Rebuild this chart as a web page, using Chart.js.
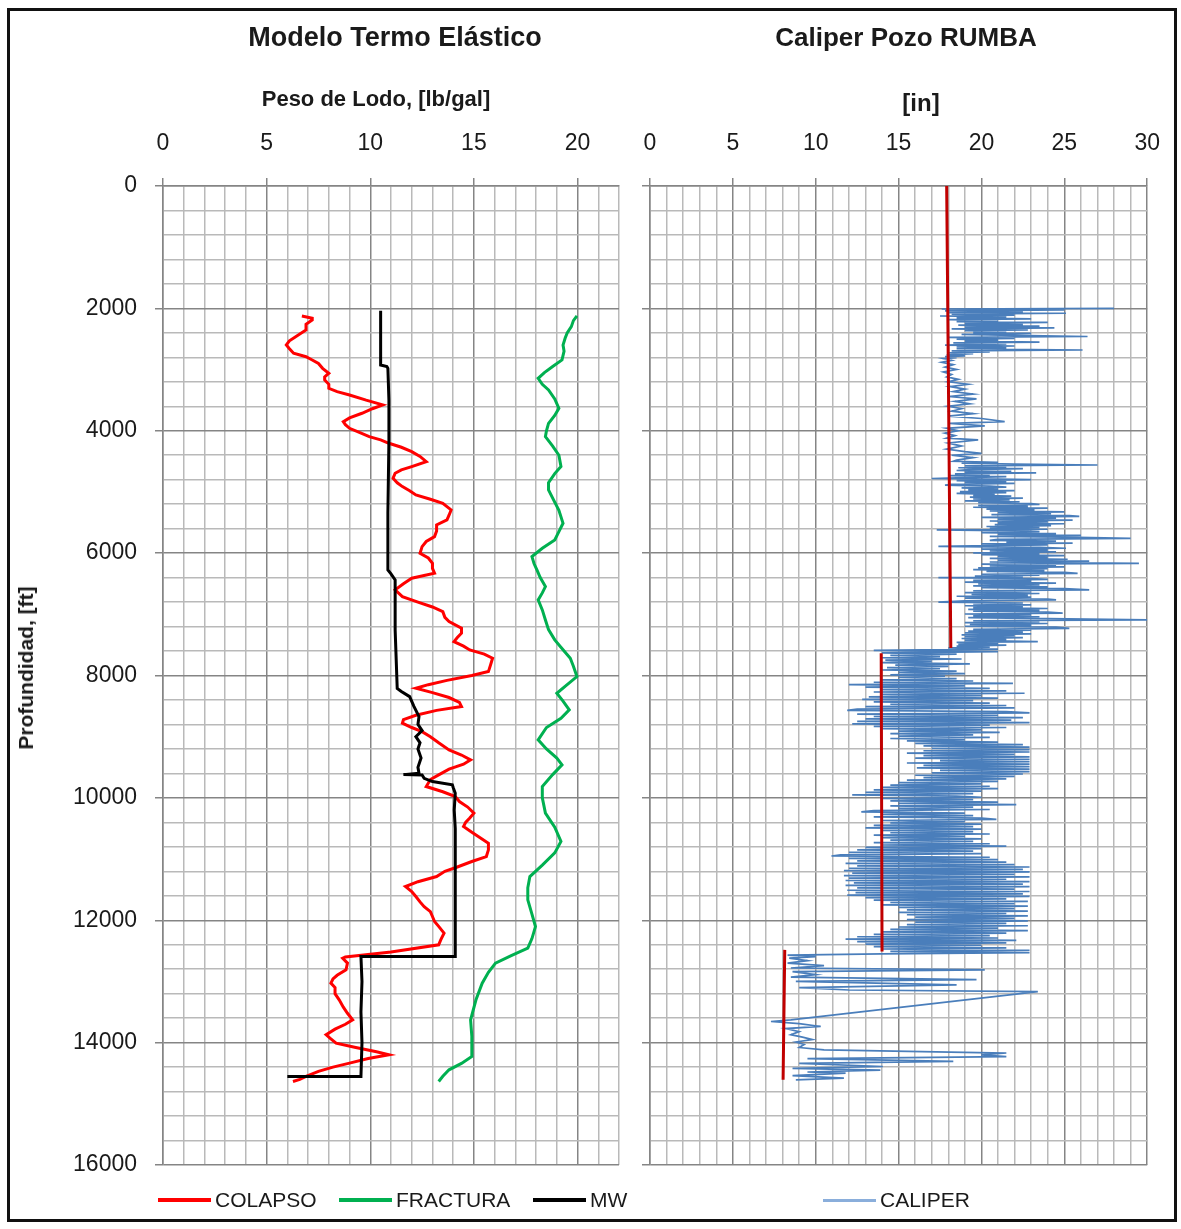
<!DOCTYPE html>
<html lang="es">
<head>
<meta charset="utf-8">
<title>Modelo Termo Elástico · Caliper Pozo RUMBA</title>
<script src="https://cdn.jsdelivr.net/npm/chart.js@4.4.1/dist/chart.umd.min.js"></script>
<style>
  html, body { margin: 0; padding: 0; background: #fff; }
  #page { position: relative; width: 1181px; height: 1229px; overflow: hidden;
          font-family: "Liberation Sans", Arial, sans-serif; color: #1a1a1a; }
  #frame { position: absolute; left: 7px; top: 8px; width: 1164px; height: 1208px; border: 3px solid #111; }
  canvas { position: absolute; top: 0; }
  #c1 { left: 0; }
  #c2 { left: 620px; }
  .lbl { position: absolute; white-space: nowrap; font-weight: bold; transform: translate(-50%, -50%); }
  .leg { position: absolute; top: 1200px; transform: translateY(-50%); display: flex; align-items: center;
         font-size: 21px; white-space: nowrap; }
  .leg i { display: inline-block; width: 53px; margin-right: 4px; }
</style>
</head>
<body>
<div id="page">
  <div id="frame"></div>
  <canvas id="c1" width="640" height="1229"></canvas>
  <canvas id="c2" width="561" height="1229"></canvas>
  <div class="lbl" style="left:395px;top:37px;font-size:27px;">Modelo Termo Elástico</div>
  <div class="lbl" style="left:906px;top:37px;font-size:26px;">Caliper Pozo RUMBA</div>
  <div class="lbl" style="left:376px;top:99px;font-size:22px;">Peso de Lodo, [lb/gal]</div>
  <div class="lbl" style="left:921px;top:103px;font-size:24px;">[in]</div>
  <div class="lbl" style="left:26px;top:668px;font-size:21px;transform:translate(-50%,-50%) rotate(-90deg);">Profundidad, [ft]</div>
  <div id="legend"></div>
</div>
<script>
// ---- Axis tick labels ----
const pesoTickLabels = [0, 5, 10, 15, 20];          // lb/gal
const caliperTickLabels = [0, 5, 10, 15, 20, 25, 30]; // in
const depthTickLabels = [0, 2000, 4000, 6000, 8000, 10000, 12000, 14000, 16000]; // ft

// ---- Mud-weight window: [depth ft, lb/gal] ----
const colapso = [
  [2124,6.7],[2160,7.2],[2190,7.2],[2260,6.9],[2353,6.9],[2420,6.6],[2462,6.4],[2530,6.1],[2598,5.95],
  [2660,6.1],[2734,6.3],[2790,6.9],[2843,7.2],[2900,7.5],[2980,7.7],[3060,8.0],[3120,7.8],[3170,7.8],
  [3240,8.0],[3306,8.0],[3360,8.4],[3415,9.0],[3500,9.8],[3578,10.6],[3640,10.1],[3714,9.6],[3790,9.0],
  [3851,8.7],[3900,8.8],[3960,9.0],[4030,9.5],[4096,9.95],[4150,10.5],[4205,10.9],[4270,11.5],[4341,12.0],
  [4420,12.4],[4505,12.7],[4586,12.0],[4640,11.5],[4695,11.2],[4777,11.1],[4850,11.3],[4913,11.55],
  [4980,11.9],[5049,12.2],[5120,12.9],[5185,13.5],[5240,13.7],[5294,13.9],[5380,13.8],[5458,13.7],
  [5539,13.2],[5640,13.2],[5730,13.1],[5810,12.7],[5894,12.5],[6003,12.4],[6080,12.8],[6166,13.0],
  [6250,13.0],[6329,13.1],[6411,12.0],[6500,11.6],[6601,11.2],[6710,11.55],[6800,12.3],[6880,13.0],
  [6956,13.5],[7050,13.6],[7119,13.8],[7228,14.4],[7309,14.4],[7380,14.2],[7446,14.04],[7520,14.5],
  [7582,14.8],[7650,15.5],[7718,15.9],[7830,15.8],[7936,15.7],[8000,14.9],[8080,13.7],[8150,12.8],
  [8208,12.2],[8280,13.0],[8360,13.8],[8440,14.3],[8508,14.4],[8570,13.2],[8650,12.2],[8720,11.6],
  [8780,11.55],[8850,12.0],[8917,12.5],[9000,12.9],[9100,13.3],[9216,13.8],[9300,14.4],[9379,14.84],
  [9450,14.5],[9530,13.8],[9624,13.3],[9700,12.9],[9815,12.7],[9900,13.5],[9978,14.1],[10060,14.3],
  [10150,14.7],[10250,15.0],[10330,14.8],[10400,14.6],[10469,14.5],[10560,14.9],[10650,15.3],
  [10741,15.7],[10850,15.7],[10959,15.6],[11040,14.9],[11130,14.2],[11200,13.6],[11286,13.2],
  [11370,12.3],[11449,11.7],[11530,12.0],[11612,12.2],[11700,12.4],[11780,12.6],[11860,12.9],
  [11939,13.0],[12020,13.1],[12100,13.3],[12211,13.56],[12320,13.4],[12402,13.3],[12520,11.0],
  [12600,8.8],[12620,8.67],[12700,8.9],[12810,8.83],[12900,8.4],[12960,8.2],[13028,8.1],[13100,8.3],
  [13200,8.3],[13300,8.5],[13420,8.7],[13520,8.9],[13627,9.15],[13700,8.8],[13780,8.3],[13872,7.87],
  [13940,8.1],[14008,8.35],[14080,9.3],[14150,10.3],[14199,10.9],[14260,9.9],[14335,9.0],[14400,8.2],
  [14470,7.5],[14553,6.9],[14600,6.6],[14635,6.27]
];
const fractura = [
  [2124,19.97],[2200,19.8],[2299,19.7],[2400,19.5],[2489,19.4],[2600,19.3],[2700,19.35],[2843,19.25],
  [2950,18.8],[3050,18.4],[3143,18.1],[3240,18.3],[3333,18.6],[3480,18.9],[3633,19.1],[3750,18.9],
  [3880,18.6],[4000,18.5],[4096,18.45],[4250,18.8],[4400,19.1],[4586,19.2],[4700,18.9],[4850,18.6],
  [4967,18.6],[5100,18.8],[5300,19.1],[5512,19.3],[5650,19.1],[5784,18.9],[5920,18.3],[6057,17.8],
  [6170,17.9],[6275,18.04],[6400,18.2],[6547,18.45],[6650,18.3],[6765,18.1],[6928,18.3],[7092,18.45],
  [7250,18.6],[7418,18.9],[7580,19.3],[7718,19.65],[7850,19.8],[8018,19.97],[8150,19.5],[8290,19.0],
  [8420,19.3],[8562,19.6],[8700,19.2],[8850,18.5],[9052,18.1],[9200,18.5],[9350,19.0],[9461,19.25],
  [9620,18.8],[9815,18.3],[10000,18.3],[10250,18.45],[10480,18.9],[10713,19.2],[10900,18.9],
  [11100,18.3],[11286,17.7],[11470,17.6],[11667,17.6],[11900,17.8],[12103,17.97],[12300,17.8],
  [12456,17.6],[12580,16.8],[12701,16.04],[12850,15.7],[13028,15.4],[13300,15.1],[13627,14.84],
  [13900,14.9],[14226,14.9],[14340,14.4],[14444,13.8],[14550,13.5],[14635,13.3]
];
const mw = [
  [2037,10.5],[2925,10.5],[2950,10.8],[2980,10.85],[3500,10.9],[4150,10.9],[5349,10.85],[6275,10.85],
  [6340,11.0],[6438,11.2],[7255,11.2],[8210,11.3],[8260,11.5],[8345,11.9],[8500,12.1],[8672,12.35],
  [8800,12.3],[8900,12.5],[9000,12.2],[9100,12.4],[9200,12.3],[9350,12.45],[9500,12.3],[9597,12.35],
  [9620,11.6],[9625,12.5],[9680,12.6],[9733,13.0],[9787,13.96],[9830,14.0],[9924,14.1],[10200,14.05],
  [10500,14.1],[11000,14.1],[12000,14.1],[12593,14.1],[12593,9.55],[13000,9.6],[13500,9.55],
  [14000,9.6],[14553,9.55],[14553,6.0]
];

// ---- Caliper log: [depth ft, in] ----
const caliper = [
  [2000,28.0],[2010,17.6],[2025,25.0],[2040,17.8],[2055,22.5],[2070,18.0],[2080,25.1],[2095,18.2],
  [2110,22.0],[2125,17.5],[2140,21.5],[2155,18.5],[2170,23.0],[2185,18.0],[2200,21.0],[2215,18.5],
  [2230,24.0],[2245,19.0],[2260,22.5],[2275,18.6],[2290,23.5],[2305,19.0],[2320,24.4],[2335,18.2],
  [2350,22.8],[2365,19.0],[2380,21.5],[2395,19.5],[2410,23.0],[2425,18.8],[2440,22.0],[2460,26.4],
  [2475,18.0],[2490,22.0],[2505,18.5],[2520,21.0],[2535,19.0],[2550,23.5],[2565,18.3],[2580,21.5],
  [2600,17.8],[2615,22.0],[2630,18.5],[2645,21.5],[2660,18.5],[2680,26.1],[2695,18.2],[2710,20.5],
  [2725,18.0],[2740,19.5],[2760,17.9],[2775,19.0],[2790,17.8],[2805,18.5],[2820,17.7],[2850,18.2],
  [2880,17.6],[2920,18.3],[2960,17.8],[3000,18.5],[3040,17.7],[3080,18.2],[3120,17.9],[3160,18.6],
  [3200,18.0],[3240,19.2],[3280,18.1],[3320,19.0],[3360,18.3],[3400,19.5],[3440,18.0],[3480,19.7],
  [3520,18.4],[3560,19.3],[3600,18.0],[3640,18.8],[3680,18.2],[3720,19.5],[3760,18.0],[3800,20.0],
  [3850,21.4],[3880,18.1],[3920,20.2],[3960,17.9],[4000,18.6],[4040,17.8],[4080,18.4],[4120,17.9],
  [4150,19.8],[4200,18.0],[4250,18.8],[4300,17.9],[4340,19.0],[4370,20.0],[4400,18.2],[4440,19.5],
  [4480,18.5],
  [4500,18.3],[4515,21.0],[4530,18.8],[4545,22.0],[4560,27.0],[4575,19.0],[4590,21.5],[4605,18.6],
  [4620,22.5],[4635,19.2],[4650,18.5],[4665,21.8],[4680,19.0],[4690,23.3],[4705,18.4],[4720,20.5],
  [4735,18.0],[4750,21.5],[4765,19.0],[4780,17.0],[4790,21.0],[4800,23.0],[4815,18.5],[4830,21.5],
  [4845,19.0],[4860,22.0],[4875,18.2],[4890,17.8],[4905,20.5],[4920,21.5],[4935,18.8],[4950,21.0],
  [4965,19.2],[4980,22.0],[4995,18.7],[5010,21.5],[5025,18.5],[5040,20.8],[5055,19.5],[5070,21.8],
  [5085,19.3],[5100,22.5],[5115,19.5],[5130,21.7],[5145,19.0],[5160,22.3],[5175,19.8],[5190,23.0],
  [5205,23.5],[5220,19.8],[5235,22.8],[5250,19.5],[5265,24.0],[5280,20.3],[5295,23.2],[5310,20.5],
  [5325,25.0],[5340,21.0],[5355,24.2],[5370,20.6],[5385,25.3],[5400,25.9],[5415,20.0],[5430,24.5],
  [5445,21.0],[5460,25.5],[5475,20.5],[5490,24.0],[5505,21.0],[5520,25.0],[5535,20.8],[5550,24.2],
  [5565,20.3],[5580,23.5],[5595,20.5],[5610,24.0],[5620,17.3],[5635,22.5],[5650,23.5],[5665,20.0],
  [5680,24.5],[5695,21.0],[5710,26.0],[5725,20.5],[5740,25.0],[5760,29.0],[5775,21.0],[5790,20.5],
  [5805,24.5],[5820,21.5],[5835,25.5],[5850,20.0],[5865,24.0],[5880,19.5],[5890,17.4],[5905,23.5],
  [5920,25.1],[5935,20.0],[5950,24.0],[5965,20.5],[5980,24.5],[5995,19.5],[6010,23.5],[6025,20.0],
  [6040,25.0],[6055,21.0],[6070,24.0],[6085,20.5],[6100,25.2],[6115,21.0],[6130,26.5],[6145,20.5],
  [6166,29.5],[6180,20.0],[6195,24.5],[6210,20.5],[6225,25.0],[6240,19.8],[6255,24.0],[6270,19.5],
  [6285,23.8],[6300,20.3],[6315,25.0],[6330,25.8],[6345,20.0],[6360,23.5],[6375,19.6],[6390,22.5],
  [6400,17.4],[6415,23.0],[6430,24.0],[6445,19.5],[6460,23.0],[6475,19.0],[6490,24.5],[6505,19.8],
  [6520,23.5],[6535,19.5],[6550,24.0],[6565,20.0],[6580,25.0],[6600,26.5],[6615,19.5],[6630,23.0],
  [6645,19.0],[6660,23.5],[6675,19.4],[6690,22.8],[6705,18.5],[6720,23.0],[6735,19.0],[6750,24.0],
  [6765,24.5],[6780,19.0],[6800,17.4],[6815,22.5],[6830,19.5],[6845,23.0],[6860,19.0],[6875,22.5],
  [6890,19.5],[6905,24.0],[6920,19.2],[6935,23.5],[6950,19.5],[6965,24.0],[6980,24.9],[6995,19.0],
  [7010,23.0],[7025,19.5],[7040,23.5],[7055,19.2],[7070,24.0],[7092,30.0],[7105,19.5],[7120,23.5],
  [7135,19.0],[7150,24.0],[7165,19.3],[7180,23.0],[7195,19.0],[7210,24.5],[7230,25.3],[7245,19.5],
  [7260,23.0],[7275,19.2],[7290,22.5],[7305,19.0],[7320,23.0],[7335,18.8],[7350,22.0],[7365,19.0],
  [7380,22.5],[7395,18.8],[7410,21.5],[7425,19.0],[7446,23.4],[7460,18.5],[7475,21.0],[7490,18.6],
  [7505,21.5],[7520,18.5],[7535,20.5],[7550,18.0],[7570,21.0],[7590,13.5],[7610,21.0],
  [7630,14.0],[7650,18.5],[7670,14.5],[7690,17.5],[7710,13.9],[7730,18.8],[7750,14.2],[7770,17.0],
  [7790,14.0],[7810,19.3],[7830,14.8],[7850,18.0],[7870,14.3],[7890,17.5],[7910,14.0],[7930,18.5],
  [7950,15.0],[7970,19.0],[7990,14.5],[8010,17.8],[8030,15.0],[8050,18.5],[8070,14.0],[8090,19.5],
  [8110,13.5],[8130,21.9],[8150,12.0],[8170,19.0],[8190,13.0],[8210,20.5],[8230,14.0],[8250,21.5],
  [8270,13.5],[8290,22.6],[8310,14.0],[8330,20.0],[8350,13.2],[8370,21.0],[8390,12.8],[8410,19.5],
  [8430,13.5],[8450,20.5],[8470,14.5],[8490,21.5],[8510,13.0],[8530,22.0],[8550,12.5],[8570,11.9],
  [8590,21.5],[8610,22.9],[8630,12.5],[8650,21.0],[8670,13.5],[8690,22.5],[8710,13.0],[8730,21.8],
  [8750,12.5],[8770,22.9],[8790,12.2],[8810,20.5],[8830,13.5],[8850,21.5],[8870,14.0],[8890,20.0],
  [8910,15.0],[8930,21.1],[8950,14.5],[8970,19.5],[8990,15.0],[9010,20.5],[9030,14.5],[9050,19.0],
  [9070,15.5],[9090,21.0],[9110,16.0],[9130,22.5],[9150,16.5],[9170,22.9],[9190,17.0],[9210,22.9],
  [9230,16.5],[9250,22.9],[9270,15.5],[9290,22.0],[9310,16.5],[9330,22.9],[9350,16.0],[9370,22.9],
  [9390,17.5],[9410,22.9],[9430,15.5],[9450,22.9],[9470,16.5],[9490,22.9],[9510,16.1],[9530,22.9],
  [9550,17.5],[9570,22.9],[9590,17.0],[9610,22.5],[9630,16.0],[9650,22.0],[9670,16.5],[9690,21.5],
  [9710,15.5],[9730,21.0],[9750,15.0],[9770,20.0],[9790,14.5],[9810,20.5],[9830,14.0],[9850,21.0],
  [9870,13.5],[9890,20.0],[9910,13.0],[9930,19.5],[9950,12.2],[9970,18.5],[9990,20.0],[10010,14.0],
  [10030,19.5],[10050,14.5],[10070,21.0],[10090,15.0],[10110,22.1],[10130,14.5],[10150,19.5],
  [10170,15.0],[10190,20.5],[10210,13.5],[10230,12.75],[10250,19.0],[10270,14.0],[10290,19.5],
  [10310,13.5],[10330,20.0],[10350,20.9],[10370,14.0],[10390,19.0],[10410,14.5],[10430,20.0],
  [10450,13.5],[10470,19.5],[10490,13.0],[10510,20.0],[10530,14.0],[10550,19.5],[10570,14.5],
  [10590,20.5],[10610,13.5],[10630,19.0],[10650,14.0],[10670,20.0],[10690,14.5],[10710,19.5],
  [10730,13.5],[10750,20.5],[10770,14.0],[10790,21.5],[10810,13.0],[10830,20.0],[10850,12.5],
  [10870,19.5],[10890,12.0],[10910,20.0],[10930,11.5],[10950,10.95],[10970,20.5],[10990,12.0],
  [11010,21.0],[11030,12.5],[11050,21.5],[11070,11.8],[11090,22.0],[11110,12.5],[11130,22.9],
  [11150,12.0],[11170,22.5],[11190,11.7],[11210,22.9],[11230,12.2],[11250,22.0],[11270,11.7],
  [11290,22.9],[11310,12.0],[11330,21.5],[11350,11.8],[11370,22.9],[11390,12.3],[11410,22.5],
  [11430,11.8],[11450,22.9],[11470,12.5],[11490,22.0],[11510,11.9],[11530,22.9],[11550,12.4],
  [11570,22.5],[11590,11.9],[11610,22.9],[11630,13.0],[11650,21.5],[11670,13.5],[11690,22.8],
  [11710,14.5],[11730,22.0],[11750,14.0],[11770,22.8],[11790,15.0],[11810,22.0],[11830,15.5],
  [11850,22.8],[11870,15.0],[11890,21.5],[11910,15.5],[11930,22.8],[11950,16.0],[11970,22.0],
  [11990,15.5],[12010,22.8],[12030,16.0],[12050,21.5],[12070,15.5],[12090,22.8],[12110,15.0],
  [12130,21.0],[12150,14.5],[12170,22.8],[12190,14.0],[12210,21.5],[12230,13.5],[12250,20.5],
  [12270,12.5],[12290,21.0],[12310,11.8],[12330,22.1],[12350,12.5],[12370,21.5],[12390,13.0],
  [12410,20.0],[12430,13.5],[12450,21.5],[12470,14.0],[12490,22.9],[12510,14.5],[12530,22.9],
  [12550,14.0],[12570,8.3],
  [12593,10.0],[12620,8.4],[12660,9.5],[12700,8.3],[12740,10.5],[12780,8.5],[12810,20.2],[12840,8.6],
  [12890,10.0],[12930,8.5],[12970,19.7],[13000,8.8],[13055,18.5],[13100,9.0],[13140,12.0],[13165,23.4],
  [13627,8.5],[13655,7.3],[13690,9.0],[13736,10.3],[13770,8.2],[13820,9.0],[13870,8.5],[13910,9.2],
  [13950,9.8],[13990,8.8],[14030,9.3],[14080,9.0],[14120,10.5],[14170,21.5],[14200,20.0],[14230,21.5],
  [14260,9.5],[14308,18.3],[14340,9.0],[14390,14.05],[14420,8.6],[14450,13.9],[14480,9.5],[14500,11.8],
  [14540,8.6],[14580,11.7],[14610,8.8]
];

// ---- Bit size by hole section: [depth ft, in] (null breaks the line) ----
const broca = [
  [0,17.9],[7550,18.15],[null,null],
  [7636,13.95],[12511,14.0],[null,null],
  [12484,8.13],[14608,8.03]
];

const FONT = '"Liberation Sans", Arial, sans-serif';
const GRID_MINOR = '#b9b9b9';
const GRID_MAJOR = '#858585';

const toPoints = rows => rows.map(([d, v]) => ({ x: v, y: d }));
const stepValues = (lo, hi, step) => { const out = []; for (let v = lo; v <= hi + 1e-9; v += step) out.push({ value: v }); return out; };

function gridFor(majorEvery) {
  const isMajor = c => c.tick && Math.abs(c.tick.value % majorEvery) < 1e-6;
  return {
    color: c => isMajor(c) ? GRID_MAJOR : GRID_MINOR,
    lineWidth: 1.5,
    tickLength: 8,
    tickColor: c => isMajor(c) ? GRID_MAJOR : 'rgba(0,0,0,0)',
    tickWidth: 1.5
  };
}

function depthAxis(showLabels, width) {
  return {
    type: 'linear', reverse: true, min: 0, max: 16000,
    afterBuildTicks: a => { a.ticks = stepValues(0, 16000, 400); },
    afterFit: a => { a.width = width; },
    grid: gridFor(2000),
    border: { color: GRID_MAJOR, width: 1.5 },
    ticks: {
      display: showLabels, autoSkip: false, padding: 18, color: '#1a1a1a',
      font: { family: FONT, size: 23 },
      callback: v => depthTickLabels.includes(v) ? String(v) : ''
    }
  };
}

function topAxis(max, labels) {
  return {
    type: 'linear', position: 'top', min: 0, max: max,
    afterBuildTicks: a => { a.ticks = stepValues(0, max, 1); },
    afterFit: a => { a.height = 106; },
    grid: gridFor(5),
    border: { color: GRID_MAJOR, width: 1.5 },
    ticks: {
      autoSkip: false, maxRotation: 0, padding: 21, color: '#1a1a1a',
      font: { family: FONT, size: 23 },
      callback: v => labels.includes(v) ? String(v) : ''
    }
  };
}

const line = (label, rows, color, width, order, extra) => Object.assign({
  label, data: toPoints(rows), showLine: true, borderColor: color, backgroundColor: color,
  borderWidth: width, pointRadius: 0, pointHoverRadius: 0, fill: false, tension: 0, order
}, extra || {});

const common = {
  responsive: false, animation: false, events: [],
  plugins: { legend: { display: false }, tooltip: { enabled: false } }
};

const chartLodo = new Chart(document.getElementById('c1'), {
  type: 'scatter',
  data: { datasets: [
    line('COLAPSO', colapso, '#ff0000', 3, 1),
    line('FRACTURA', fractura, '#00b050', 3, 2),
    line('MW', mw, '#000000', 3, 0)
  ] },
  options: Object.assign({}, common, {
    layout: { padding: { left: 10, top: 80, right: 19, bottom: 64 } },
    scales: { x: topAxis(22, pesoTickLabels), y: depthAxis(true, 153) }
  })
});

const chartCaliper = new Chart(document.getElementById('c2'), {
  type: 'scatter',
  data: { datasets: [
    line('CALIPER', caliper, '#4a7ebb', 1.7, 1),
    line('Broca', broca, '#c00000', 3, 0, { spanGaps: false, inLegend: false })
  ] },
  options: Object.assign({}, common, {
    layout: { padding: { left: 0, top: 80, right: 32, bottom: 64 } },
    scales: { x: topAxis(30, caliperTickLabels), y: depthAxis(false, 30) }
  })
});

// Legend rows under each track, built from the datasets
const legendSlots = [
  { chart: chartLodo, left: [158, 339, 533] },
  { chart: chartCaliper, left: [823] }
];
const legendEl = document.getElementById('legend');
legendSlots.forEach(slot => {
  slot.chart.data.datasets.filter(ds => ds.inLegend !== false).forEach((ds, i) => {
    const item = document.createElement('div');
    item.className = 'leg';
    item.style.left = slot.left[i] + 'px';
    const swatch = document.createElement('i');
    swatch.style.height = (ds.borderWidth >= 2 ? 4 : 3) + 'px';
    swatch.style.background = ds.label === 'CALIPER' ? '#8aaedb' : ds.borderColor;
    item.appendChild(swatch);
    item.appendChild(document.createTextNode(ds.label));
    legendEl.appendChild(item);
  });
});
</script>
</body>
</html>
